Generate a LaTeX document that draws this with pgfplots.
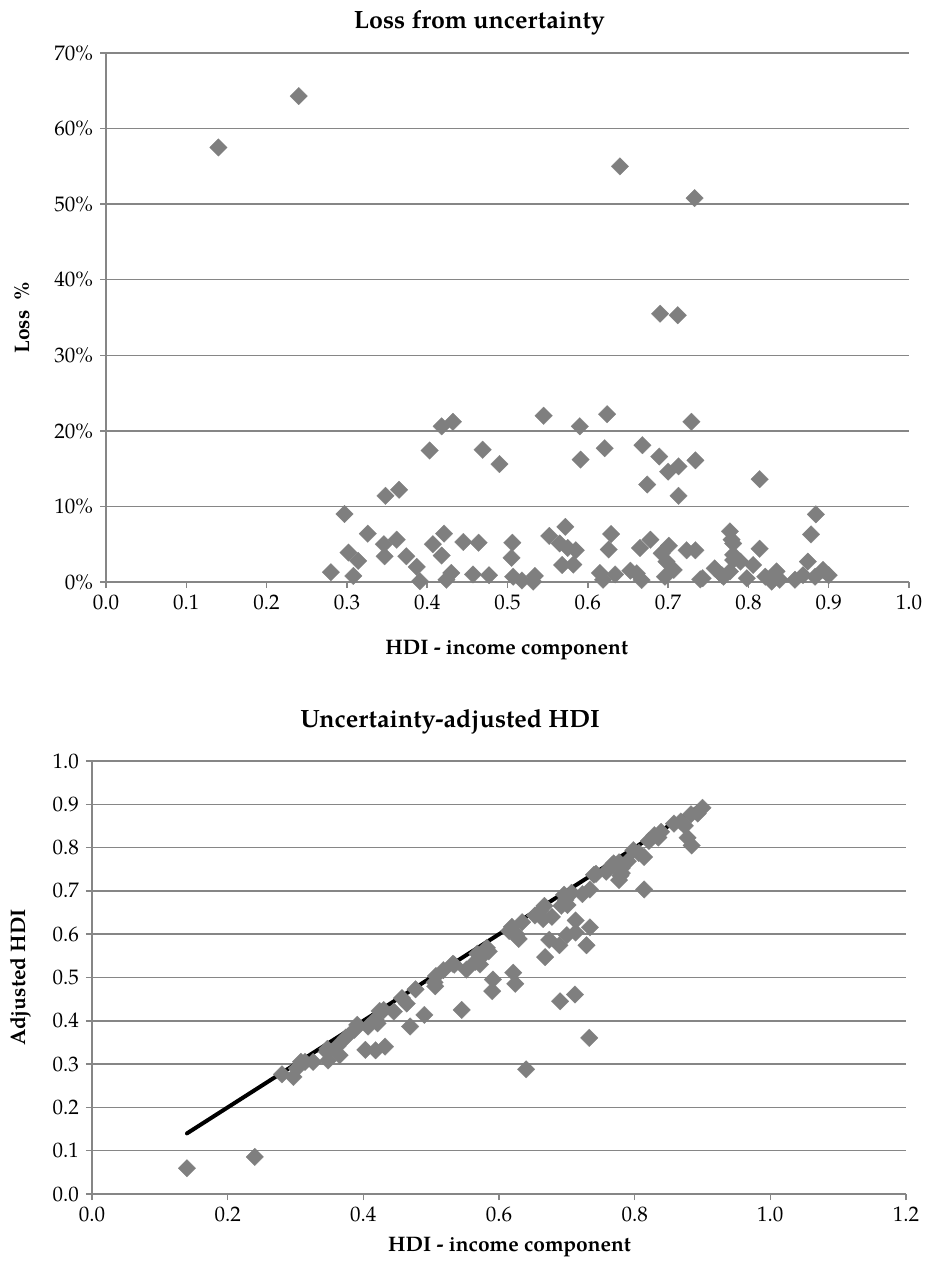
\documentclass[border=0pt]{standalone}
\usepackage{pgfplots}
\pgfplotsset{compat=1.18}
\usepackage{pgfplotstable}
\usepackage{fontspec}
\setmainfont{TeX Gyre Pagella}
\definecolor{mk}{RGB}{127,127,127}
\definecolor{gr}{RGB}{134,134,134}

\pgfplotstableread{
x loss adj
0.140 57.5 0.0595
0.240 64.3 0.0857
0.640 55.0 0.2880
0.733 50.8 0.3606
0.690 35.5 0.4451
0.712 35.3 0.4607
0.418 20.6 0.3319
0.432 21.2 0.3404
0.403 17.4 0.3329
0.469 17.5 0.3869
0.490 15.6 0.4136
0.348 11.4 0.3083
0.365 12.2 0.3205
0.297 9.0 0.2703
0.326 6.4 0.3051
0.302 3.9 0.2902
0.314 2.8 0.3052
0.280 1.3 0.2764
0.308 0.8 0.3055
0.346 5.0 0.3287
0.347 3.4 0.3352
0.362 5.6 0.3417
0.374 3.4 0.3613
0.387 2.0 0.3793
0.391 0.1 0.3906
0.407 5.0 0.3867
0.421 6.4 0.3941
0.418 3.5 0.4034
0.430 1.2 0.4248
0.424 0.3 0.4227
0.445 5.3 0.4214
0.464 5.2 0.4399
0.457 1.0 0.4524
0.477 0.9 0.4727
0.506 5.2 0.4797
0.505 3.2 0.4888
0.507 0.7 0.5035
0.518 0.2 0.5170
0.534 0.8 0.5297
0.532 0.05 0.5317
0.545 22.0 0.4251
0.590 20.6 0.4685
0.624 22.2 0.4855
0.591 16.2 0.4953
0.621 17.7 0.5111
0.729 21.2 0.5745
0.668 18.1 0.5471
0.689 16.6 0.5746
0.713 15.3 0.6039
0.700 14.6 0.5978
0.734 16.1 0.6158
0.674 12.9 0.5870
0.713 11.4 0.6317
0.552 6.1 0.5183
0.572 7.3 0.5302
0.565 5.1 0.5362
0.585 4.2 0.5604
0.568 2.25 0.5552
0.582 2.3 0.5686
0.575 4.5 0.5491
0.629 6.35 0.5891
0.626 4.3 0.5991
0.615 1.2 0.6076
0.619 0.3 0.6171
0.634 1.0 0.6277
0.653 1.5 0.6432
0.665 4.5 0.6351
0.678 5.6 0.6400
0.661 1.15 0.6534
0.667 0.26 0.6653
0.692 3.8 0.6657
0.701 4.8 0.6674
0.698 2.7 0.6792
0.707 1.6 0.6957
0.696 0.7 0.6911
0.723 4.2 0.6926
0.734 4.2 0.7032
0.740 0.35 0.7374
0.758 1.8 0.7444
0.769 0.7 0.7636
0.777 6.7 0.7249
0.781 5.1 0.7412
0.781 2.9 0.7584
0.777 1.4 0.7661
0.814 13.6 0.7033
0.884 8.95 0.8049
0.878 6.3 0.8227
0.779 5.6 0.7354
0.814 4.4 0.7782
0.874 2.7 0.8504
0.781 3.6 0.7529
0.790 2.7 0.7687
0.806 2.25 0.7879
0.767 0.9 0.7601
0.798 0.5 0.7940
0.821 0.7 0.8153
0.835 1.4 0.8233
0.839 0.3 0.8365
0.829 0.05 0.8286
0.858 0.3 0.8554
0.868 0.9 0.8602
0.893 1.6 0.8787
0.900 0.9 0.8919
0.883 0.7 0.8768
0.743 0.5 0.7393
}\datatable

\pgfplotsset{
  every axis title/.style={anchor=center, font=\fontsize{12.5}{15}\selectfont\bfseries},
  every axis/.append style={
    scale only axis,
    font=\fontsize{10.5}{12}\selectfont,
    /pgf/number format/assume math mode=true,
    axis x line=bottom, axis y line=left,
    axis line style={-, gr, line width=0.75pt},
    tick style={gr, line width=0.75pt},
    tick align=outside, major tick length=3pt,
    ymajorgrids, major grid style={gr, line width=0.75pt},
    clip=false,
    label style={font=\fontsize{10.5}{12}\selectfont\bfseries},
  },
  mkstyle/.style={only marks, mark=square*, mark size=3.1pt,
    mark options={rotate=45, fill=mk, draw=mk, line width=0.1pt}},
}

\begin{document}
\begin{tikzpicture}
\useasboundingbox (0,0) rectangle (463.5pt,-636pt);
% top chart
\begin{axis}[
  at={(53pt,-291pt)}, anchor=origin,
  width=401.5pt, height=264.5pt,
  xmin=0, xmax=1, ymin=0, ymax=70,
  xtick={0,0.1,...,1.0},
  ytick={0,10,...,70},
  xticklabel style={/pgf/number format/.cd, fixed, fixed zerofill, precision=1},
  yticklabel={\pgfmathprintnumber{\tick}\%},
  title={Loss from uncertainty},
  title style={at={(axis description cs:0.465,1.057)}},
  xlabel={HDI - income component},
  xlabel style={at={(axis description cs:0.499,-0.128)}, anchor=center},
  ylabel={Loss \ \%},
  ylabel style={at={(axis description cs:-0.105,0.5)}, anchor=center},
]
\addplot[mkstyle] table[x=x, y=loss] {\datatable};
\end{axis}
% bottom chart
\begin{axis}[
  at={(46pt,-597pt)}, anchor=origin,
  width=407pt, height=216.5pt,
  xmin=0, xmax=1.2, ymin=0, ymax=1,
  xtick={0,0.2,...,1.2},
  ytick={0,0.1,...,1.0},
  xticklabel style={/pgf/number format/.cd, fixed, fixed zerofill, precision=1},
  yticklabel style={/pgf/number format/.cd, fixed, fixed zerofill, precision=1},
  title={Uncertainty-adjusted HDI},
  title style={at={(axis description cs:0.44,1.09)}},
  xlabel={HDI - income component},
  xlabel style={at={(axis description cs:0.513,-0.122)}, anchor=center},
  ylabel={Adjusted HDI},
  ylabel style={at={(axis description cs:-0.088,0.5)}, anchor=center},
]
\addplot[black, line width=2pt, line cap=round] coordinates {(0.14,0.14) (0.898,0.898)};
\addplot[mkstyle] table[x=x, y=adj] {\datatable};
\end{axis}
\end{tikzpicture}
\end{document}
